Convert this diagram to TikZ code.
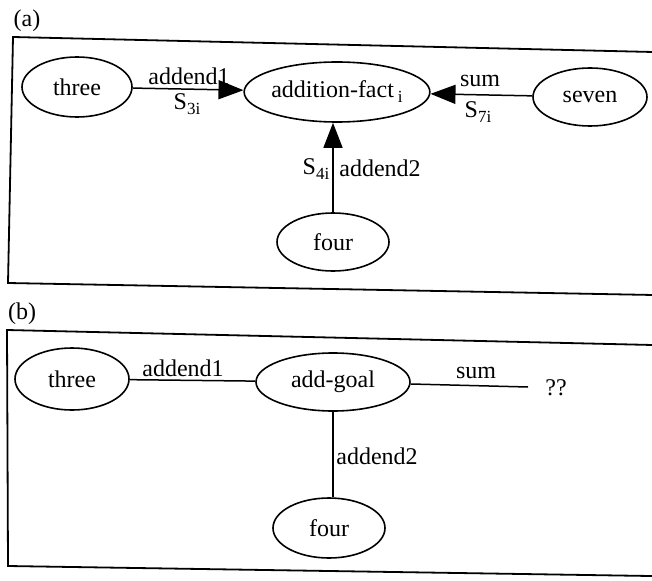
\documentclass[tikz,border=0pt]{standalone}
\usepackage{fontspec}
\setmainfont{Liberation Serif}
\usetikzlibrary{shapes.geometric,arrows.meta}
% lowered index used for the strength labels and the fact index
\newcommand\idx[1]{\raisebox{-0.45ex}{\fontsize{17}{17}\selectfont #1}}
\begin{document}
\begin{tikzpicture}[x=1pt,y=-1pt,
  every node/.style={font=\fontsize{24}{28}\selectfont},
  concept/.style={ellipse,draw,line width=1.6pt,inner sep=0pt},
  rel/.style={line width=1.5pt},
  relarrow/.style={rel,-{Triangle[length=25pt,width=19pt]}},
  frame/.style={line width=1.8pt},
  lbl/.style={inner sep=0pt}]
\useasboundingbox (0,0) rectangle (652,580);

% ---------- panel (a): the addition fact as a chunk ----------
\node[lbl] (tagA) at (27,21) {(a)};
\draw[frame] (670,52.4) -- (13,37) -- (8,283) -- (670,295.3);

\node[concept,minimum width=110pt,minimum height=60pt] (athree) at (77,87) {three};
\node[concept,minimum width=152pt,minimum height=60pt] (afact) at (337,92) {addition-fact\,\idx{i}};
\node[concept,minimum width=114pt,minimum height=58pt] (aseven) at (590,97) {seven};
\node[concept,minimum width=112pt,minimum height=58pt] (afour) at (333,242) {four};

\draw[relarrow] (athree) -- (afact);
\draw[relarrow] (aseven) -- (afact);
\draw[relarrow] (afour.north) -- (afour.north |- afact.south);

\node[lbl] (aAddOne) at (189,76) {addend1};
\node[lbl] (aSthree) at (187,104) {S\idx{3i}};
\node[lbl] (aSum) at (480,81) {sum};
\node[lbl] (aSseven) at (478,112) {S\idx{7i}};
\node[lbl] (aSfour) at (316,169) {S\idx{4i}};
\node[lbl] (aAddTwo) at (380,168) {addend2};

% ---------- panel (b): the goal with an open sum slot ----------
\node[lbl] (tagB) at (22,314) {(b)};
\draw[frame] (670,345.4) -- (7,330) -- (8,566) -- (670,576.3);

\node[concept,minimum width=114pt,minimum height=62pt] (bthree) at (72,379) {three};
\node[concept,minimum width=154pt,minimum height=58pt] (bgoal) at (333,382) {add-goal};
\node[concept,minimum width=112pt,minimum height=60pt] (bfour) at (329,528) {four};
\node[lbl] (bunknown) at (556,388) {??};
\coordinate (bsumend) at (528,387);

\draw[rel] (bthree) -- (bgoal);
\draw[rel] (bgoal) -- (bsumend);
\draw[rel] (bgoal.south) -- (bgoal.south |- bfour.north);

\node[lbl] (bAddOne) at (183,368) {addend1};
\node[lbl] (bSum) at (476,373) {sum};
\node[lbl] (bAddTwo) at (377,456) {addend2};
\end{tikzpicture}
\end{document}
